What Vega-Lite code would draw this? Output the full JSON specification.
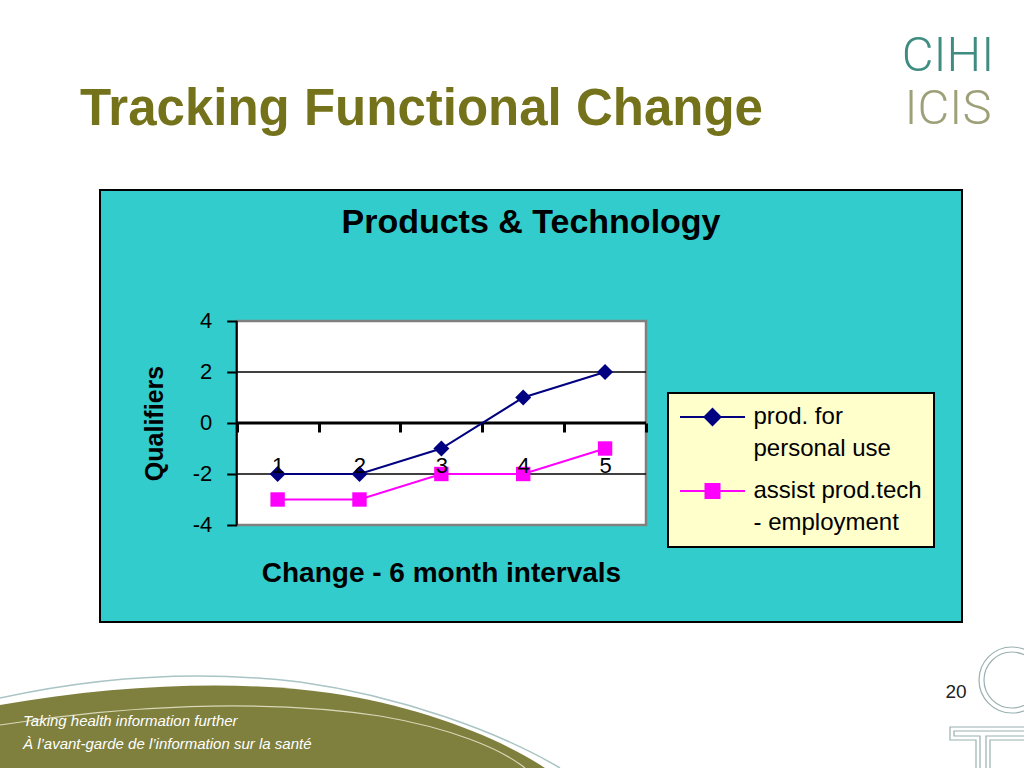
{
  "$schema": "https://vega.github.io/schema/vega-lite/v6.json",
  "width": 862,
  "height": 432,
  "autosize": {"type": "none"},
  "padding": {"left": 100, "top": 190, "right": 62, "bottom": 146},
  "background": "white",
  "view": {"fill": "#33CCCC", "stroke": "black", "strokeWidth": 2},
  "config": {
    "font": "Liberation Sans",
    "legend": {
      "orient": "none",
      "legendX": 568,
      "legendY": 203,
      "fillColor": "#FFFFCC",
      "strokeColor": "black",
      "padding": 12,
      "symbolSize": 400,
      "symbolStrokeWidth": 2,
      "symbolOffset": 20.5,
      "labelOffset": 29,
      "labelFontSize": 24,
      "labelColor": "black",
      "labelLimit": 400,
      "rowPadding": 18
    }
  },
  "title": {
    "text": "Products & Technology",
    "anchor": "middle",
    "frame": "group",
    "offset": -208,
    "fontSize": 34,
    "fontWeight": "bold",
    "color": "black"
  },
  "datasets": {
    "series": [
      {"interval": 1, "value": -2, "series": "prod. for personal use"},
      {"interval": 2, "value": -2, "series": "prod. for personal use"},
      {"interval": 3, "value": -1, "series": "prod. for personal use"},
      {"interval": 4, "value": 1, "series": "prod. for personal use"},
      {"interval": 5, "value": 2, "series": "prod. for personal use"},
      {"interval": 1, "value": -3, "series": "assist prod.tech - employment"},
      {"interval": 2, "value": -3, "series": "assist prod.tech - employment"},
      {"interval": 3, "value": -2, "series": "assist prod.tech - employment"},
      {"interval": 4, "value": -2, "series": "assist prod.tech - employment"},
      {"interval": 5, "value": -1, "series": "assist prod.tech - employment"}
    ],
    "gridlines": [{"level": 2}, {"level": -2}],
    "one": [{}]
  },
  "layer": [
    {
      "data": {"name": "one"},
      "mark": {"type": "point", "shape": "M0,-63C120,-84 240,-88 330,-75C420,-62 500,-30 545,0H0Z", "size": 4, "filled": true, "color": "#7F7F3E", "opacity": 1, "strokeWidth": 0},
      "encoding": {"x": {"datum": -2.3915}, "y": {"datum": -13.53}}
    },
    {
      "data": {"name": "one"},
      "mark": {"type": "point", "shape": "M0,-70C100,-92 200,-98 300,-86C400,-72 500,-36 560,0", "size": 4, "filled": false, "color": "#A9C4C4", "opacity": 1, "strokeWidth": 1.5},
      "encoding": {"x": {"datum": -2.3915}, "y": {"datum": -13.53}}
    },
    {
      "data": {"name": "one"},
      "mark": {"type": "point", "shape": "M0,-43C120,-62 260,-70 380,-52C450,-40 500,-20 525,0", "size": 4, "filled": false, "color": "#D8D8B8", "opacity": 1, "strokeWidth": 1.2},
      "encoding": {"x": {"datum": -2.3915}, "y": {"datum": -13.53}}
    },
    {
      "data": {"name": "one"},
      "mark": {"type": "point", "shape": "M21,-88A33,33 0 1,1 -45,-88A33,33 0 1,1 21,-88M16,-88A28,28 0 1,1 -40,-88A28,28 0 1,1 16,-88M0,-41H-74V-28H-48V0M-34,0V-28H0M0,-37H-70V-32H-44V0M-38,0V-32H0", "size": 4, "filled": false, "color": "#9AB0B0", "opacity": 1, "strokeWidth": 1.2},
      "encoding": {"x": {"datum": 10.1177}, "y": {"datum": -13.53}}
    },
    {
      "data": {"name": "one"},
      "mark": {"type": "rect", "fill": "white", "stroke": "#808080", "strokeWidth": 2.5},
      "encoding": {"x": {"datum": 0.5}, "x2": {"datum": 5.5}, "y": {"datum": -4}, "y2": {"datum": 4}}
    },
    {
      "data": {"name": "gridlines"},
      "mark": {"type": "rule", "color": "black", "strokeWidth": 1.5},
      "encoding": {"y": {"field": "level", "type": "quantitative"}, "x": {"datum": 0.5}, "x2": {"datum": 5.5}}
    },
    {
      "data": {"name": "one"},
      "mark": {"type": "rule", "color": "black", "strokeWidth": 3},
      "encoding": {"y": {"datum": 0}, "x": {"datum": 0.5}, "x2": {"datum": 5.5}}
    },
    {
      "data": {"name": "one"},
      "mark": {"type": "rule", "color": "black", "strokeWidth": 2},
      "encoding": {"x": {"datum": 0.5}, "y": {"datum": -4}, "y2": {"datum": 4}}
    },
    {
      "data": {"name": "series"},
      "mark": {"type": "line", "strokeWidth": 2},
      "encoding": {
        "x": {
          "field": "interval",
          "type": "quantitative",
          "scale": {"domain": [-1.1699, 9.3603], "nice": false, "zero": false},
          "axis": {
            "orient": "bottom",
            "offset": -199,
            "values": [0.5, 1.5, 2.5, 3.5, 4.5, 5.5],
            "labelExpr": "datum.value < 5 ? '' + (datum.value + 0.5) : ''",
            "labelOffset": 40.93,
            "labelFontSize": 22,
            "labelColor": "black",
            "labelBaseline": "middle",
            "labelPadding": 33,
            "labelFlush": false,
            "labelOverlap": false,
            "labelBound": false,
            "domain": false,
            "grid": false,
            "ticks": true,
            "tickSize": 9,
            "tickWidth": 3,
            "tickColor": "black",
            "title": "Change - 6 month intervals",
            "titleFontSize": 28,
            "titleFontWeight": "bold",
            "titleColor": "black",
            "titleX": 341,
            "titleY": 158,
            "titleBaseline": "alphabetic",
            "zindex": 1
          }
        },
        "y": {
          "field": "value",
          "type": "quantitative",
          "scale": {"domain": [-7.804, 9.137], "nice": false, "zero": false},
          "axis": {
            "orient": "left",
            "offset": -136.7,
            "values": [-4, -2, 0, 2, 4],
            "labelExpr": "'' + datum.value",
            "labelFontSize": 22,
            "labelColor": "black",
            "labelPadding": 15,
            "labelOverlap": false,
            "labelFlush": false,
            "labelBound": false,
            "domain": false,
            "grid": false,
            "tickSize": 10,
            "tickWidth": 2,
            "tickColor": "black",
            "title": "Qualifiers",
            "titleFontSize": 25,
            "titleFontWeight": "bold",
            "titleColor": "black",
            "titleX": -74.7,
            "titleY": 233,
            "titleBaseline": "alphabetic",
            "zindex": 1
          }
        },
        "color": {
          "field": "series",
          "type": "nominal",
          "scale": {"domain": ["prod. for personal use", "assist prod.tech - employment"], "range": ["#000080", "#FF00FF"]},
          "legend": {
            "title": null,
            "labelExpr": "datum.label == 'prod. for personal use' ? ['prod. for', 'personal use'] : ['assist prod.tech', '- employment']",
            "encode": {
              "legend": {"update": {"strokeWidth": {"value": 2}}},
              "symbols": {
                "update": {
                  "shape": {"signal": "datum.value == 'prod. for personal use' ? 'M-3.25,0H3.25M0,-0.8L0.8,0L0,0.8L-0.8,0Z' : 'M-3.25,0H3.25M-0.7,-0.7H0.7V0.7H-0.7Z'"},
                  "fill": {"signal": "datum.value == 'prod. for personal use' ? '#000080' : '#FF00FF'"},
                  "stroke": {"signal": "datum.value == 'prod. for personal use' ? '#000080' : '#FF00FF'"},
                  "strokeWidth": {"value": 2},
                  "opacity": {"value": 1}
                }
              },
              "labels": {"update": {"lineHeight": {"value": 32}}}
            }
          }
        }
      }
    },
    {
      "data": {"name": "series"},
      "transform": [{"filter": "datum.series == 'prod. for personal use'"}],
      "mark": {"type": "point", "filled": true, "size": 256, "opacity": 1, "shape": "M0,-1L1,0L0,1L-1,0Z"},
      "encoding": {
        "x": {"field": "interval", "type": "quantitative"},
        "y": {"field": "value", "type": "quantitative"},
        "color": {
          "field": "series",
          "type": "nominal",
          "scale": {"domain": ["prod. for personal use", "assist prod.tech - employment"], "range": ["#000080", "#FF00FF"]},
          "legend": {
            "title": null,
            "labelExpr": "datum.label == 'prod. for personal use' ? ['prod. for', 'personal use'] : ['assist prod.tech', '- employment']",
            "encode": {
              "legend": {"update": {"strokeWidth": {"value": 2}}},
              "symbols": {
                "update": {
                  "shape": {"signal": "datum.value == 'prod. for personal use' ? 'M-3.25,0H3.25M0,-0.8L0.8,0L0,0.8L-0.8,0Z' : 'M-3.25,0H3.25M-0.7,-0.7H0.7V0.7H-0.7Z'"},
                  "fill": {"signal": "datum.value == 'prod. for personal use' ? '#000080' : '#FF00FF'"},
                  "stroke": {"signal": "datum.value == 'prod. for personal use' ? '#000080' : '#FF00FF'"},
                  "strokeWidth": {"value": 2},
                  "opacity": {"value": 1}
                }
              },
              "labels": {"update": {"lineHeight": {"value": 32}}}
            }
          }
        }
      }
    },
    {
      "data": {"name": "series"},
      "transform": [{"filter": "datum.series == 'assist prod.tech - employment'"}],
      "mark": {"type": "point", "filled": true, "size": 256, "opacity": 1, "shape": "M-0.9,-0.9H0.9V0.9H-0.9Z"},
      "encoding": {
        "x": {"field": "interval", "type": "quantitative"},
        "y": {"field": "value", "type": "quantitative"},
        "color": {
          "field": "series",
          "type": "nominal",
          "scale": {"domain": ["prod. for personal use", "assist prod.tech - employment"], "range": ["#000080", "#FF00FF"]},
          "legend": {
            "title": null,
            "labelExpr": "datum.label == 'prod. for personal use' ? ['prod. for', 'personal use'] : ['assist prod.tech', '- employment']",
            "encode": {
              "legend": {"update": {"strokeWidth": {"value": 2}}},
              "symbols": {
                "update": {
                  "shape": {"signal": "datum.value == 'prod. for personal use' ? 'M-3.25,0H3.25M0,-0.8L0.8,0L0,0.8L-0.8,0Z' : 'M-3.25,0H3.25M-0.7,-0.7H0.7V0.7H-0.7Z'"},
                  "fill": {"signal": "datum.value == 'prod. for personal use' ? '#000080' : '#FF00FF'"},
                  "stroke": {"signal": "datum.value == 'prod. for personal use' ? '#000080' : '#FF00FF'"},
                  "strokeWidth": {"value": 2},
                  "opacity": {"value": 1}
                }
              },
              "labels": {"update": {"lineHeight": {"value": 32}}}
            }
          }
        }
      }
    },
    {
      "data": {"name": "one"},
      "mark": {"type": "text", "text": "Tracking Functional Change", "align": "left", "baseline": "alphabetic", "fontSize": 51, "fontWeight": "bold", "color": "#74731B"},
      "encoding": {"x": {"datum": -1.4142}, "y": {"datum": 11.686}}
    },
    {
      "data": {"name": "one"},
      "mark": {"type": "text", "text": "CIHI", "align": "center", "baseline": "alphabetic", "fontSize": 49, "font": "Roboto", "fontWeight": 300, "color": "#3F8C80"},
      "encoding": {"x": {"datum": 9.189}, "y": {"datum": 13.804}}
    },
    {
      "data": {"name": "one"},
      "mark": {"type": "text", "text": "ICIS", "align": "center", "baseline": "alphabetic", "fontSize": 49, "font": "Roboto", "fontWeight": 300, "color": "#9DA078"},
      "encoding": {"x": {"datum": 9.189}, "y": {"datum": 11.725}}
    },
    {
      "data": {"name": "one"},
      "mark": {"type": "text", "text": "20", "align": "center", "baseline": "middle", "fontSize": 19, "color": "#222222"},
      "encoding": {"x": {"datum": 9.287}, "y": {"datum": -10.549}}
    },
    {
      "data": {"name": "one"},
      "mark": {"type": "text", "text": "Taking health information further", "align": "left", "baseline": "middle", "fontSize": 15, "fontStyle": "italic", "font": "Liberation Sans Narrow, Liberation Sans", "color": "white"},
      "encoding": {"x": {"datum": -2.1105}, "y": {"datum": -11.687}}
    },
    {
      "data": {"name": "one"},
      "mark": {"type": "text", "text": "À l’avant-garde de l’information sur la santé", "align": "left", "baseline": "middle", "fontSize": 15, "fontStyle": "italic", "font": "Liberation Sans Narrow, Liberation Sans", "color": "white"},
      "encoding": {"x": {"datum": -2.1105}, "y": {"datum": -12.588}}
    }
  ]
}
